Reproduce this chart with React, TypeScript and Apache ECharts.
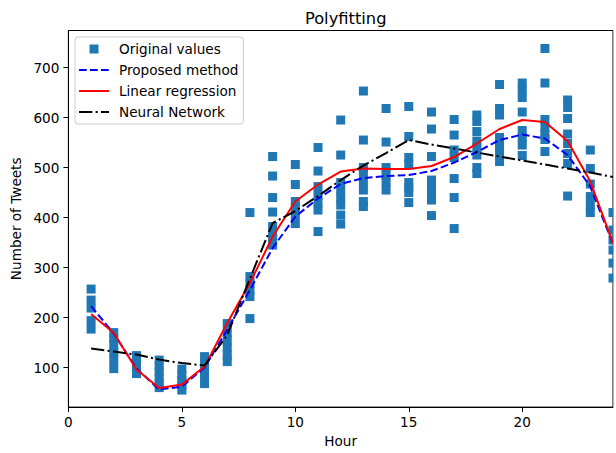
import React, { useEffect, useRef } from "react";
import * as echarts from "echarts";

const hours = [1, 2, 3, 4, 5, 6, 7, 8, 9, 10, 11, 12, 13, 14, 15, 16, 17, 18, 19, 20, 21, 22, 23, 24];

// Original values: one list of observed tweet counts per hour
const originalValues: number[][] = [
  [257, 235, 219, 194, 177],
  [170, 158, 145, 130, 115, 98],
  [124, 112, 100, 88],
  [115, 103, 92, 80, 68, 60],
  [97, 85, 74, 64, 55],
  [122, 108, 95, 82, 68],
  [188, 170, 155, 140, 125, 112],
  [410, 282, 268, 255, 242, 198],
  [522, 483, 440, 411, 382, 370, 358, 345],
  [506, 466, 432, 420, 405, 388],
  [540, 493, 462, 445, 430, 415, 372],
  [595, 525, 470, 455, 440, 425, 405, 387],
  [653, 555, 500, 488, 470, 455, 432, 422],
  [618, 551, 500, 485, 470, 455],
  [622, 562, 520, 507, 470, 460, 450, 430],
  [611, 577, 522, 475, 462, 450, 435, 404],
  [596, 565, 535, 520, 478, 440, 378],
  [605, 592, 572, 553, 540, 525, 500, 488],
  [666, 618, 605, 560, 545, 530, 512],
  [669, 655, 640, 611, 574, 560, 545, 524],
  [738, 669, 596, 580, 565, 556, 532],
  [635, 620, 598, 567, 548, 528, 508, 443],
  [535, 498, 467, 442, 425, 410],
  [410, 375, 355, 335, 309, 279],
];

const proposedMethod = [223, 168, 98, 56, 62, 100, 176, 255, 339, 402, 438, 467, 479, 483, 485, 493, 510, 531, 555, 566, 558, 525, 462, 347];
const linearRegression = [207, 169, 96, 59, 66, 102, 189, 269, 362, 432, 466, 492, 498, 497, 497, 503, 521, 548, 577, 595, 591, 553, 472, 349];
const neuralNetwork = [138, 132, 126, 116, 109, 104, 165, 278, 389, 413, 443, 475, 504, 529, 555, 546, 538, 530, 522, 514, 506, 498, 490, 481];

const xTicks = [0, 5, 10, 15, 20];
const yTicks = [100, 200, 300, 400, 500, 600, 700];

const FONT = "DejaVu Sans";

export default function App() {
  const ref = useRef<HTMLDivElement>(null);

  useEffect(() => {
    if (!ref.current) return;
    const chart = echarts.init(ref.current, undefined, { renderer: "svg" });

    const scatterData: number[][] = [];
    hours.forEach((h, i) => {
      originalValues[i].forEach((v) => scatterData.push([h, v]));
    });
    const pair = (arr: number[]) => hours.map((h, i) => [h, arr[i]]);

    chart.setOption({
      animation: false,
      backgroundColor: "#fff",
      textStyle: { fontFamily: FONT },
      title: {
        text: "Polyfitting",
        left: 340.7,
        top: 5,
        textAlign: "center",
        textStyle: { fontFamily: FONT, fontSize: 16.3, fontWeight: "normal", color: "#000" },
      },
      legend: {
        orient: "vertical",
        left: 75,
        top: 37,
        itemWidth: 30,
        itemHeight: 9,
        itemGap: 0,
        padding: [1.5, 5, 1.5, 3],
        backgroundColor: "#fff",
        borderColor: "#cccccc",
        borderWidth: 1,
        borderRadius: 3,
        textStyle: { fontFamily: FONT, fontSize: 13.6, color: "#000", lineHeight: 21, padding: [0, 0, 0, 5] },
        data: [
          { name: "Original values", icon: "path://M0,0h10v10h-10z", itemStyle: { opacity: 1 } },
          { name: "Proposed method", itemStyle: { opacity: 0 } },
          { name: "Linear regression", itemStyle: { opacity: 0 } },
          { name: "Neural Network", itemStyle: { opacity: 0 } },
        ],
      },
      grid: {
        left: 68.4,
        right: 3,
        top: 30.5,
        bottom: 45.5,
        show: true,
        borderColor: "#000",
        borderWidth: 1,
        backgroundColor: "transparent",
      },
      xAxis: {
        type: "value",
        min: 0,
        max: 24,
        interval: 5,
        name: "Hour",
        nameLocation: "middle",
        nameGap: 25,
        nameTextStyle: { fontFamily: FONT, fontSize: 13.6, color: "#000" },
        splitLine: { show: false },
        axisLine: { show: true, onZero: false, lineStyle: { color: "#000", width: 1 } },
        axisTick: { show: true, length: 5, lineStyle: { color: "#000" }, customValues: xTicks },
        axisLabel: { fontFamily: FONT, fontSize: 13.6, color: "#000", margin: 8, customValues: xTicks },
      },
      yAxis: {
        type: "value",
        min: 21,
        max: 774,
        name: "Number of Tweets",
        nameLocation: "middle",
        nameRotate: 90,
        nameGap: 43,
        nameTextStyle: { fontFamily: FONT, fontSize: 13.6, color: "#000" },
        splitLine: { show: false },
        axisLine: { show: true, onZero: false, lineStyle: { color: "#000", width: 1 } },
        axisTick: { show: true, length: 5, lineStyle: { color: "#000" }, customValues: yTicks },
        axisLabel: { fontFamily: FONT, fontSize: 13.6, color: "#000", margin: 9, customValues: yTicks },
      },
      graphic: [
        {
          type: "rect",
          right: 0,
          top: 0,
          shape: { width: 2.4, height: 453 },
          style: { fill: "#fff" },
          z: 100,
          silent: true,
        },
      ],
      series: [
        {
          name: "Original values",
          type: "scatter",
          symbol: "rect",
          symbolSize: 9,
          itemStyle: { color: "#1f77b4", opacity: 1 },
          data: scatterData,
          z: 2,
        },
        {
          name: "Proposed method",
          type: "line",
          symbol: "none",
          showSymbol: false,
          color: "#0000ff",
          lineStyle: { color: "#0000ff", width: 2, type: [7.7, 3.3] },
          data: pair(proposedMethod),
          z: 3,
        },
        {
          name: "Linear regression",
          type: "line",
          symbol: "none",
          showSymbol: false,
          color: "#ff0000",
          lineStyle: { color: "#ff0000", width: 2 },
          data: pair(linearRegression),
          z: 4,
        },
        {
          name: "Neural Network",
          type: "line",
          symbol: "none",
          showSymbol: false,
          color: "#000000",
          lineStyle: { color: "#000000", width: 2, type: [13.3, 3.3, 2.1, 3.3] },
          data: pair(neuralNetwork),
          z: 5,
        },
      ],
    });

    return () => chart.dispose();
  }, []);

  return (
    <div
      ref={ref}
      style={{ position: "fixed", left: 0, top: 0, width: 616, height: 453, background: "#fff" }}
    />
  );
}
